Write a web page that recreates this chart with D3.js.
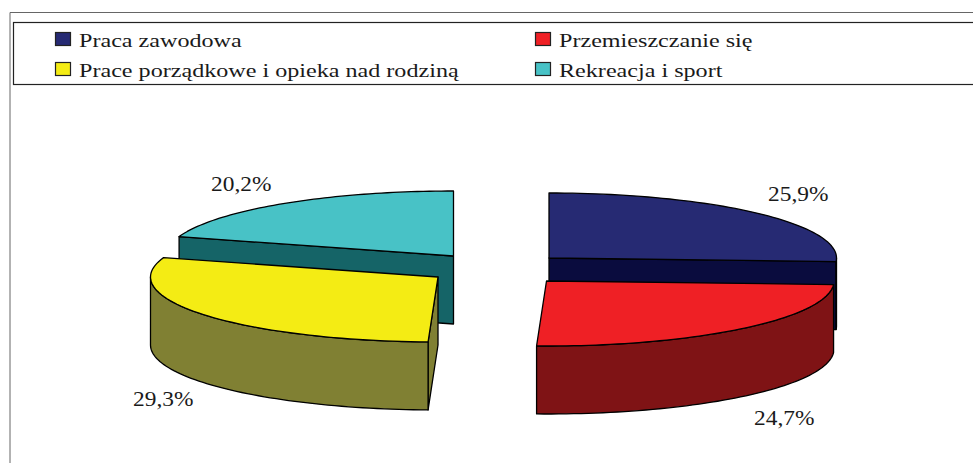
<!DOCTYPE html>
<html>
<head>
<meta charset="utf-8">
<script src="https://cdn.jsdelivr.net/npm/d3@7"></script>
<style>
  html, body { margin: 0; padding: 0; background: #fff; }
  svg { display: block; }
  text { font-family: "Liberation Serif", serif; fill: #1a1a1a; }
</style>
</head>
<body>
<svg width="973" height="463"></svg>
<script>
var categories = ["Praca zawodowa", "Przemieszczanie się", "Prace porządkowe i opieka nad rodziną", "Rekreacja i sport"];
var values = [25.9, 24.7, 29.3, 20.2];
var valueLabels = ["25,9%", "24,7%", "29,3%", "20,2%"];
var topColors = ["#262a73", "#ef2025", "#f4ec14", "#48c2c6"];
var sideColors = ["#0a0c3e", "#7f1315", "#808033", "#156467"];

var svg = d3.select("svg");

// pie drawn as a tilted ellipse, each slice has its own pulled out centre
var rx = 287.5, ry = 65, depth = 68;
var centers = [[549, 258], [546.5, 281], [438, 277], [453.5, 256]];
var labelPos = [[768, 201], [754, 425], [133, 406], [211, 191]];
var legendPos = [[55, 32], [535, 32], [55, 62], [535, 62]];

var pie = d3.pie().sort(null).value(function(d) { return d; });
var slices = pie(values);

var line = d3.line();

function rim(c, a, dy) {
  return [c[0] + rx * Math.sin(a), c[1] - ry * Math.cos(a) + (dy || 0)];
}
function arcPoints(c, a0, a1, dy) {
  var n = 60, pts = [];
  for (var i = 0; i <= n; i++) pts.push(rim(c, a0 + (a1 - a0) * i / n, dy));
  return pts;
}
function radialWall(c, a) {
  return line([c, rim(c, a), rim(c, a, depth), [c[0], c[1] + depth]]) + "Z";
}

// frame
svg.append("path").attr("d", line([[10, 463], [10, 12.5], [973, 12.5]]))
  .attr("fill", "none").attr("stroke", "#666").attr("stroke-width", 1);
svg.append("rect").attr("x", 13.5).attr("y", 22.5).attr("width", 970).attr("height", 62)
  .attr("fill", "#fff").attr("stroke", "#222").attr("stroke-width", 1.2);

// back slices first, front ones on top
[3, 0, 2, 1].forEach(function(i) {
  var s = slices[i], c = centers[i];
  var g = svg.append("g").attr("stroke", "#000").attr("stroke-width", 1.3).attr("stroke-linejoin", "round");

  // only the cut faces turned to the viewer
  if (Math.sin(s.startAngle) < -1e-6) g.append("path").attr("d", radialWall(c, s.startAngle)).attr("fill", sideColors[i]);
  if (Math.sin(s.endAngle) > 1e-6) g.append("path").attr("d", radialWall(c, s.endAngle)).attr("fill", sideColors[i]);

  var a0 = Math.max(s.startAngle, Math.PI / 2), a1 = Math.min(s.endAngle, Math.PI * 1.5);
  if (a1 > a0) {
    var front = arcPoints(c, a0, a1, 0).concat(arcPoints(c, a1, a0, depth));
    g.append("path").attr("d", line(front) + "Z").attr("fill", sideColors[i]);
  }

  var top = [c].concat(arcPoints(c, s.startAngle, s.endAngle, 0));
  g.append("path").attr("d", line(top) + "Z").attr("fill", topColors[i]);
});

// value labels, the source picture is stretched sideways
valueLabels.forEach(function(t, i) {
  svg.append("text")
    .attr("transform", "translate(" + labelPos[i][0] + "," + labelPos[i][1] + ") scale(1.17,1)")
    .attr("font-size", 20)
    .text(t);
});

// legend
categories.forEach(function(t, i) {
  var p = legendPos[i];
  svg.append("rect").attr("x", p[0] + 0.5).attr("y", p[1] + 0.5).attr("width", 15).attr("height", 13)
    .attr("fill", topColors[i]).attr("stroke", "#222").attr("stroke-width", 1.2);
  svg.append("text")
    .attr("transform", "translate(" + (p[0] + 24) + "," + (p[1] + 15) + ") scale(1.27,1)")
    .attr("font-size", 19)
    .text(t);
});
</script>
</body>
</html>
